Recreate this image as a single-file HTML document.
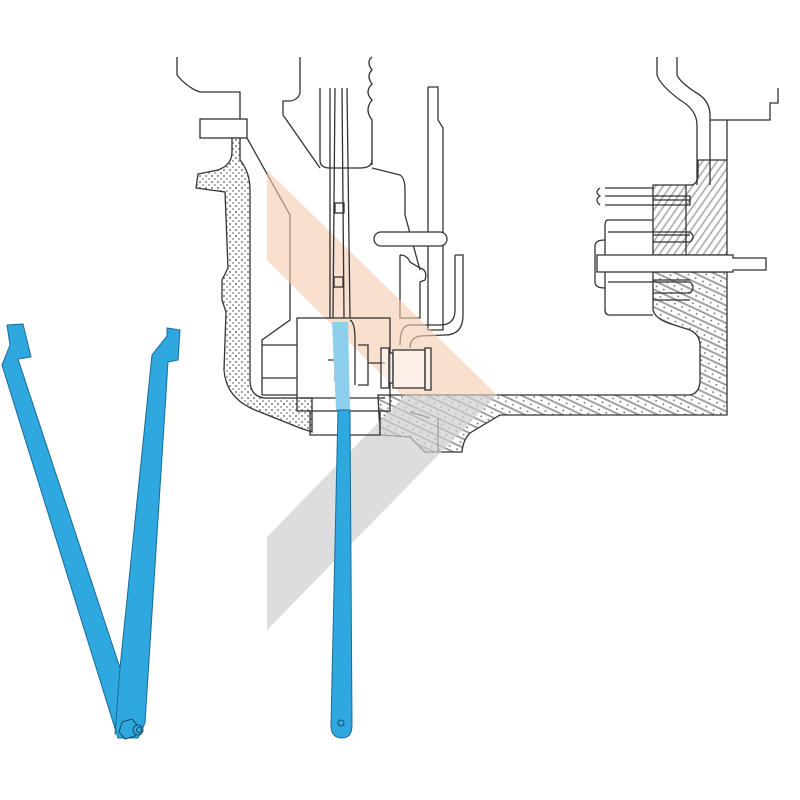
<!DOCTYPE html>
<html><head><meta charset="utf-8"><style>html,body{margin:0;padding:0;background:#fff}svg{display:block}</style></head>
<body>
<svg width="800" height="800" viewBox="0 0 800 800" xmlns="http://www.w3.org/2000/svg">
<defs>
<pattern id="dots" width="6" height="6" patternUnits="userSpaceOnUse">
<rect width="6" height="6" fill="#fff"/>
<circle cx="2" cy="2" r="1" fill="#777"/>
<circle cx="5" cy="5" r="1" fill="#999"/>
</pattern>
<pattern id="hatch" width="8" height="8" patternUnits="userSpaceOnUse" patternTransform="rotate(25)">
<rect width="8" height="8" fill="#fff"/>
<line x1="0" y1="2" x2="8" y2="2" stroke="#999" stroke-width="1.8"/>
<circle cx="4" cy="6" r="0.9" fill="#666"/>
</pattern>
<pattern id="hatch2" width="6" height="6" patternUnits="userSpaceOnUse" patternTransform="rotate(-55)">
<rect width="6" height="6" fill="#fff"/>
<line x1="0" y1="2" x2="6" y2="2" stroke="#aaa" stroke-width="1.6"/>
</pattern>
</defs>

<g fill="none" stroke="#333" stroke-width="1.3">
<path d="M177,57 L177,75 Q185,85 195,90 L200,92 L240,92 L240,119"/>
<rect x="200" y="119" width="47" height="19" fill="#fff"/>
<path d="M300,57 L300,93 Q298,100 290,101 L283,101 L283,115 L320,168"/>
<path d="M372,57 Q366,62 372,70 Q366,76 372,84 Q364,92 372,100 Q364,110 372,120 L372,165"/>
<path d="M320,88 L320,160 Q320,168 330,168 L360,168 Q372,168 372,160"/>
<path d="M372,168 L400,175 Q405,178 405,190 L405,215 L420,270"/>
<path d="M247,138 L290,215 L290,320 L262,340 L262,395"/>
<path d="M428,87 L438,87 L438,120 L443,128 L443,330 L428,330 L428,128 L428,87"/>
<rect x="374" y="232" width="73" height="14" rx="7" fill="#fff"/>
<path d="M400,255 Q407,255 410,262 L420,268 Q428,270 425,280 L420,282 L420,318 L400,318 L400,255"/>
<path d="M455,255 L463,255 L463,315 Q463,335 445,335 L420,336 Q410,338 410,348"/>
<path d="M455,255 L455,310 Q455,325 440,325 L410,325 Q400,325 400,345"/>
</g>

<path d="M232,138 L232,152 Q232,165 218,170 L198,174 L196,188 L225,192 L228,268 L222,280 L222,300 L226,312 L224,370 Q226,398 255,410 L300,428 L312,432 L312,398 L264,398 Q250,396 250,380 L250,190 Q250,172 240,160 L240,138 Z" fill="url(#dots)" stroke="#333" stroke-width="1.3"/>

<path d="M378,395 L690,395 Q700,393 700,380 L700,345 Q700,335 690,330 L668,323 Q655,318 653,310 L653,272 L727,272 L727,415 L500,415 L470,433 Q463,440 462,452 L425,452 L410,437 L380,435 Z" fill="url(#hatch)" stroke="#333" stroke-width="1.3"/>
<path d="M438,418 L438,452 M410,412 L430,418" stroke="#333" stroke-width="1.3" fill="none"/>
<path d="M653,185 L692,185 Q698,183 698,175 L698,160 L727,160 L727,255 L653,255 Z" fill="url(#hatch2)" stroke="#333" stroke-width="1.3"/>
<path d="M653,200 L690,200 M653,235 L690,235 M653,280 L690,280 M653,300 L690,300 M686,185 L686,255" stroke="#333" stroke-width="1.3"/>

<g fill="none" stroke="#333" stroke-width="1.3">
<path d="M657,57 L657,75 Q660,85 680,100 Q697,110 697,125 L697,185"/>
<path d="M677,57 L677,75 Q680,82 695,92 Q710,100 710,115 L710,185"/>
<path d="M710,120 L770,120 L770,103 L778,103 L778,88"/>
<path d="M727,120 L727,160"/>
<path d="M605,188 L653,188 M605,196 L690,196 L690,205 L605,205 M600,188 Q594,192 600,196 Q594,200 600,205"/>
<path d="M653,220 L608,220 Q605,220 605,226 L605,310 Q605,315 610,315 L653,315"/>
<path d="M608,232 L690,232 Q696,237 690,242 L653,242"/>
<path d="M608,282 L690,282 Q696,287 690,293 L653,293"/>
<path d="M605,240 Q595,240 595,246 L595,282 Q595,288 605,288"/>
</g>
<path d="M597,255 L733,255 L733,258 L766,258 L766,270 L733,270 L733,272 L597,272 Z" fill="#fff" stroke="#333" stroke-width="1.3"/>

<polygon points="267,170 497,395 402,395 267,260" fill="#f4c9ad" opacity="0.6"/>
<polygon points="405,395 497,395 267,630 267,537" fill="#cfcfcf" opacity="0.7"/>

<g fill="none" stroke="#333" stroke-width="1.3">
<path d="M330,88 L330,318 M335,88 L333,318 M342,88 L344,318 M347,88 L350,318"/>
<rect x="335" y="203" width="9" height="10"/>
<rect x="334" y="277" width="9" height="10"/>
<rect x="297" y="318" width="93" height="93"/>
<path d="M262,345 L297,345 M262,378 L297,378 M262,395 L297,395"/>
<path d="M310,411 L310,435 L380,435 L380,411"/>
<path d="M350,320 Q355,322 355,340 L355,385 M358,345 L368,345 L368,385 L358,385 M368,363 L385,363"/>
<path d="M328,360 L335,360 L335,380 L338,380 L338,410"/>
<path d="M300,398 L385,398"/>
</g>
<path d="M332,322 L348,322 L350,410 L336,410 Z" fill="#8ecfee"/>
<g fill="#fff" stroke="#333" stroke-width="1.3" fill-opacity="0.5">
<rect x="381" y="348" width="8" height="40"/>
<rect x="389" y="353" width="4" height="30"/>
<rect x="393" y="350" width="32" height="38"/>
<rect x="425" y="348" width="6" height="42"/>
</g>

<path d="M338,410 L350,410 L352,725 Q352,738 342,738 Q331,738 331,725 Z" fill="#2ea8df" stroke="#1a6a96" stroke-width="1"/>
<circle cx="341" cy="723" r="3" fill="none" stroke="#1a4a6a"/>

<path d="M7,325 L23,324 L31,357 L18,359 L120,668 L152,355 L167,336 L167,328 L180,330 L178,360 L168,362 L145,723 L138,738 L118,738 L2,365 L10,345 Z" fill="#2ea8df" stroke="#1a6a96" stroke-width="1"/>
<path d="M120,668 L115,735" stroke="#1a6a96"/>
<polygon points="122,722 132,719 138,726 135,736 125,739 119,732" fill="#2ea8df" stroke="#1a4a6a"/>
<circle cx="138" cy="730" r="5" fill="#2ea8df" stroke="#1a4a6a"/>
<circle cx="139" cy="730" r="2.5" fill="none" stroke="#1a4a6a"/>
</svg>
</body></html>
